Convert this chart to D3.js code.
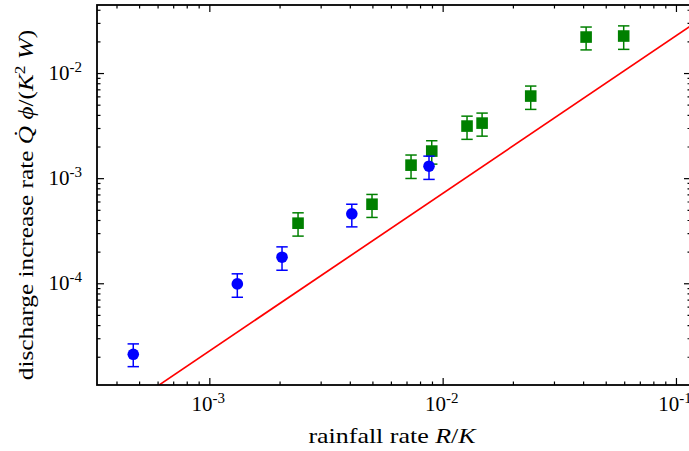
<!DOCTYPE html>
<html>
<head>
<meta charset="utf-8">
<script src="https://cdn.jsdelivr.net/npm/d3@7"></script>
<style>
  html, body { margin: 0; padding: 0; background: #fff; }
  svg { display: block; }
  text { font-family: "Liberation Serif", "DejaVu Serif", serif; fill: #000; }
</style>
</head>
<body>
<svg id="chart" width="689" height="451"></svg>
<script>
// ---- data ----
const blueX    = [4.72e-4, 1.318e-3, 2.049e-3, 4.08e-3, 8.74e-3];
const blueY    = [2.11e-5, 9.86e-5, 1.77e-4, 4.58e-4, 1.30e-3];
const blueLow  = [1.61e-5, 7.36e-5, 1.33e-4, 3.44e-4, 9.73e-4];
const blueHigh = [2.65e-5, 1.23e-4, 2.22e-4, 5.65e-4, 1.62e-3];

const greenX    = [2.40e-3, 4.98e-3, 7.32e-3, 8.98e-3, 1.272e-2, 1.476e-2, 2.385e-2, 4.12e-2, 5.97e-2];
const greenY    = [3.73e-4, 5.65e-4, 1.33e-3, 1.81e-3, 3.13e-3, 3.34e-3, 6.04e-3, 2.20e-2, 2.25e-2];
const greenLow  = [2.81e-4, 4.23e-4, 9.93e-4, 1.36e-3, 2.34e-3, 2.51e-3, 4.51e-3, 1.66e-2, 1.68e-2];
const greenHigh = [4.68e-4, 7.00e-4, 1.66e-3, 2.27e-3, 3.89e-3, 4.16e-3, 7.52e-3, 2.74e-2, 2.81e-2];

const lineX = [6.1e-4, 0.116];
const lineY = [1.08e-5, 0.0282];

const xMajor = [1e-3, 1e-2, 1e-1];
const xMajorExp = ["-3", "-2", "-1"];
const yMajor = [1e-4, 1e-3, 1e-2];
const yMajorExp = ["-4", "-3", "-2"];

const xDomain = [3.3e-4, 0.116];
const yDomain = [1.077e-5, 0.0444];

// ---- layout ----
const L = 97, R = 691, T = 5, B = 385;
const svg = d3.select("#chart");
const x = d3.scaleLog().domain(xDomain).range([L, R]);
const y = d3.scaleLog().domain(yDomain).range([B, T]);

function minors(domain) {
  const out = [];
  for (let e = -6; e <= 1; e++) {
    for (let m = 2; m <= 9; m++) {
      const v = m * Math.pow(10, e);
      if (v >= domain[0] && v <= domain[1]) out.push(v);
    }
  }
  return out;
}
const xMinor = minors(xDomain);
const yMinor = minors(yDomain);

const MAJ = 7, MIN = 3.5;

function drawAxis(gen, transform, vals, size) {
  const g = svg.append("g").attr("transform", transform)
    .call(gen.tickValues(vals).tickSize(-size).tickFormat(""));
  g.select(".domain").remove();
  g.selectAll("line").attr("stroke", "#000").attr("stroke-width", 1.2);
}
drawAxis(d3.axisBottom(x), `translate(0,${B})`, xMajor, MAJ);
drawAxis(d3.axisBottom(x), `translate(0,${B})`, xMinor, MIN);
drawAxis(d3.axisTop(x), `translate(0,${T})`, xMajor, MAJ);
drawAxis(d3.axisTop(x), `translate(0,${T})`, xMinor, MIN);
drawAxis(d3.axisLeft(y), `translate(${L},0)`, yMajor, MAJ);
drawAxis(d3.axisLeft(y), `translate(${L},0)`, yMinor, MIN);
drawAxis(d3.axisRight(y), `translate(${R},0)`, yMajor, MAJ);
drawAxis(d3.axisRight(y), `translate(${R},0)`, yMinor, MIN);

// clip
svg.append("clipPath").attr("id", "clip")
  .append("rect").attr("x", L).attr("y", T).attr("width", R - L).attr("height", B - T);

// red line
svg.append("path")
  .attr("clip-path", "url(#clip)")
  .attr("d", d3.line().x(d => x(d[0])).y(d => y(d[1]))(d3.zip(lineX, lineY)))
  .attr("fill", "none").attr("stroke", "#ff0000").attr("stroke-width", 1.7);

function errorSeries(xs, ys, lo, hi, color, shape) {
  const g = svg.append("g");
  const cap = 5.7;
  xs.forEach((xv, i) => {
    const cx = x(xv);
    g.append("line").attr("x1", cx).attr("x2", cx).attr("y1", y(lo[i])).attr("y2", y(hi[i]))
      .attr("stroke", color).attr("stroke-width", 1.5);
    [lo[i], hi[i]].forEach(v => {
      g.append("line").attr("x1", cx - cap).attr("x2", cx + cap).attr("y1", y(v)).attr("y2", y(v))
        .attr("stroke", color).attr("stroke-width", 1.5);
    });
  });
  xs.forEach((xv, i) => {
    const cx = x(xv), cy = y(ys[i]);
    if (shape === "circle") {
      g.append("circle").attr("cx", cx).attr("cy", cy).attr("r", 5.8).attr("fill", color);
    } else {
      const s = 11.6;
      g.append("rect").attr("x", cx - s / 2).attr("y", cy - s / 2).attr("width", s).attr("height", s).attr("fill", color);
    }
  });
}
errorSeries(greenX, greenY, greenLow, greenHigh, "#008000", "square");
errorSeries(blueX, blueY, blueLow, blueHigh, "#0000ff", "circle");

// frame
svg.append("rect").attr("x", L).attr("y", T).attr("width", R - L).attr("height", B - T)
  .attr("fill", "none").attr("stroke", "#000").attr("stroke-width", 1.8);

// tick labels
xMajor.forEach((v, i) => {
  const t = svg.append("text").attr("x", x(v) - 1).attr("y", 411).attr("text-anchor", "middle")
    .style("font-size", "21px");
  t.append("tspan").text("10");
  t.append("tspan").attr("dy", -8).style("font-size", "15px").text(xMajorExp[i]);
});
yMajor.forEach((v, i) => {
  const t = svg.append("text").attr("x", 82).attr("y", y(v) + 7).attr("text-anchor", "end")
    .style("font-size", "21px");
  t.append("tspan").text("10");
  t.append("tspan").attr("dy", -8).style("font-size", "15px").text(yMajorExp[i]);
});

// axis titles
const xt = svg.append("text").attr("transform", "translate(392,443) scale(1.18,1)")
  .attr("text-anchor", "middle").style("font-size", "22px");
xt.append("tspan").text("rainfall rate ");
xt.append("tspan").style("font-style", "italic").text("R");
xt.append("tspan").text("/");
xt.append("tspan").style("font-style", "italic").text("K");

const yt = svg.append("text").attr("transform", "translate(33,205) rotate(-90) scale(1.15,1)")
  .attr("text-anchor", "middle").style("font-size", "22px");
yt.append("tspan").text("discharge increase rate ");
yt.append("tspan").style("font-style", "italic").text("Q\u0307");
yt.append("tspan").text(" ");
yt.append("tspan").style("font-style", "italic").text("\u03d5");
yt.append("tspan").text("/(");
yt.append("tspan").style("font-style", "italic").text("K");
yt.append("tspan").attr("dy", -8).style("font-size", "15px").text("2");
yt.append("tspan").attr("dy", 8).text(" ");
yt.append("tspan").style("font-style", "italic").text("W");
yt.append("tspan").text(")");
</script>
</body>
</html>
